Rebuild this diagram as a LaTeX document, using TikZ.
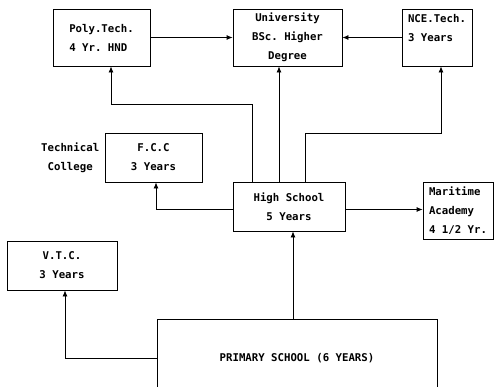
\documentclass[tikz,border=0pt]{standalone}
\usepackage{fontspec}
\setmonofont{DejaVu Sans Mono}
\usetikzlibrary{arrows.meta}
\tikzset{
  box/.style={draw, line width=0.8pt, inner sep=2pt,
    font=\ttfamily\bfseries\fontsize{10.7}{19}\selectfont},
  arr/.style={-{Latex[length=6pt,width=5pt]}, line width=0.8pt}
}
\begin{document}
\begin{tikzpicture}[x=1pt,y=-1pt]
  \useasboundingbox (0,0) rectangle (494,386);
  \draw
    (101.5,37.5) node[box, minimum width=97pt, minimum height=57pt, align=left] (poly){Poly.Tech.\\4 Yr. HND}
    (287.5,37.5) node[box, minimum width=109pt, minimum height=57pt, align=center] (univ){University\\BSc. Higher\\Degree}
    (437,37.5) node[box, minimum width=70pt, minimum height=57pt, align=left] (nce){NCE.Tech.\\3 Years\\\mbox{}}
    (153.5,157.5) node[box, minimum width=97pt, minimum height=49pt, align=center] (fcc){F.C.C\\3 Years}
    (289,206.5) node[box, minimum width=112pt, minimum height=49pt, align=center] (high){High School\\5 Years}
    (458,210.5) node[box, minimum width=70pt, minimum height=57pt, align=left] (maritime){Maritime\\Academy\\4 1/2 Yr.}
    (62,265.5) node[box, minimum width=110pt, minimum height=49pt, align=center] (vtc){V.T.C.\\3 Years}
    (297,358) node[box, minimum width=280pt, minimum height=78pt] (primary){PRIMARY SCHOOL (6 YEARS)};
  \node[box, draw=none, align=center, anchor=east] (tech) at ([xshift=-3pt]fcc.west) {Technical\\College};
  \coordinate (polyturn) at (111,104);
  \coordinate (nceturn) at (441,133);
  \begin{scope}[arr]
    \draw (poly.east) -- (univ.west);
    \draw (nce.west) -- (univ.east);
    \draw ([xshift=20pt]high.north west) |- (polyturn) -- (polyturn |- poly.south);
    \draw ([xshift=-10pt]high.north) -- ([xshift=-10pt]high.north |- univ.south);
    \draw ([xshift=16pt]high.north) |- (nceturn) -- (nceturn |- nce.south);
    \draw ([yshift=-3pt]high.east) -- ([yshift=-3pt]high.east -| maritime.west);
    \draw ([yshift=-3pt]high.west) -| ([xshift=2.5pt]fcc.south);
    \draw ([xshift=4pt]high.south |- primary.north) -- ([xshift=4pt]high.south);
    \draw (primary.west) -| ([xshift=3pt]vtc.south);
  \end{scope}
\end{tikzpicture}
\end{document}
